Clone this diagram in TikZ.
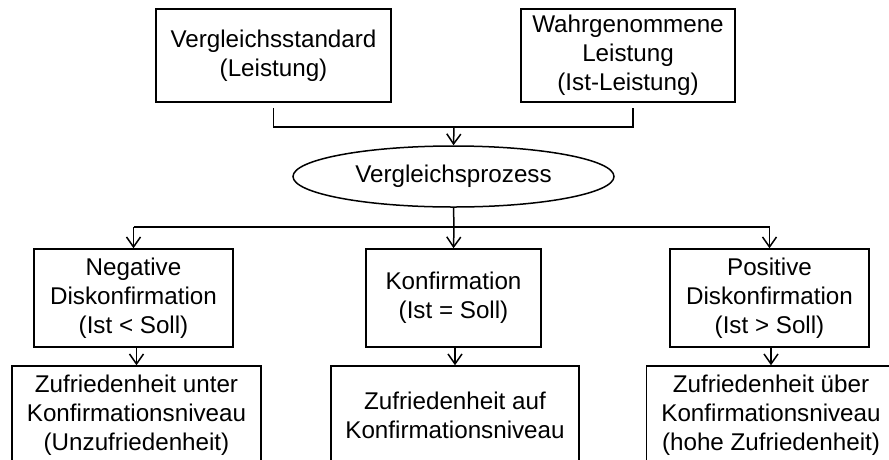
\documentclass[tikz,border=0pt]{standalone}
\usepackage{fontspec}
\setmainfont{Liberation Sans}
\usetikzlibrary{arrows.meta,shapes.geometric,calc}
\begin{document}
\begin{tikzpicture}[x=1pt,y=-1pt,
  txt/.style={font=\fontsize{24.2}{28.8}\selectfont, align=center, inner sep=0pt},
  box/.style={txt, draw, line width=1.5pt, rectangle},
  conn/.style={line width=1.5pt},
  arr/.style={conn, -{Straight Barb[length=10pt,width=14pt,line width=1.5pt]}}
]
\useasboundingbox (0,0) rectangle (889,459);
\clip (0,0) rectangle (889,459);
\fill[white] (0,0) rectangle (889,459);

% inputs of the comparison
\node[box, minimum width=235pt, minimum height=93pt] (std) at (273.5,55.5)
  {Vergleichsstandard\\(Leistung)};
\node[box, minimum width=214pt, minimum height=93pt] (ist) at (628,55.5)
  {Wahrgenommene\\Leistung\\(Ist-Leistung)};

% comparison process
\node[txt, draw, line width=1.5pt, ellipse, minimum width=321pt, minimum height=61pt]
  (proc) at (453.5,176.5) {Vergleichsprozess};

\coordinate (join) at (454,127);
\draw[conn] ($(std.south)+(0,5)$) |- (join) -| ($(ist.south)+(5,5)$);
\draw[arr] (join) -- (proc.north);

% outcomes of the comparison
\node[box, minimum width=199pt, minimum height=98pt] (neg) at (133.5,298)
  {Negative\\Diskonfirmation\\(Ist < Soll)};
\node[box, minimum width=175pt, minimum height=98pt] (konf) at (453.5,298)
  {Konfirmation\\(Ist = Soll)};
\node[box, minimum width=199pt, minimum height=98pt] (pos) at (769.5,298)
  {Positive\\Diskonfirmation\\(Ist > Soll)};

\coordinate (split) at (454,227);
\draw[conn] (proc.south) -- (split);
\draw[conn] (neg.north |- split) -- (pos.north |- split);
\draw[arr] (neg.north |- split) -- (neg.north);
\draw[arr] (split) -- (konf.north);
\draw[arr] (pos.north |- split) -- (pos.north);

% resulting satisfaction
\node[box, minimum width=249pt, minimum height=98pt] (zneg) at (136.5,415)
  {Zufriedenheit unter\\Konfirmationsniveau\\(Unzufriedenheit)};
\node[box, minimum width=248pt, minimum height=98pt] (zkonf) at (455,415)
  {Zufriedenheit auf\\Konfirmationsniveau};
\node[box, minimum width=249pt, minimum height=98pt] (zpos) at (771,415)
  {Zufriedenheit über\\Konfirmationsniveau\\(hohe Zufriedenheit)};

\draw[arr] (neg.south -| zneg.north) -- (zneg.north);
\draw[arr] (konf.south -| zkonf.north) -- (zkonf.north);
\draw[arr] (pos.south -| zpos.north) -- (zpos.north);
\end{tikzpicture}
\end{document}
